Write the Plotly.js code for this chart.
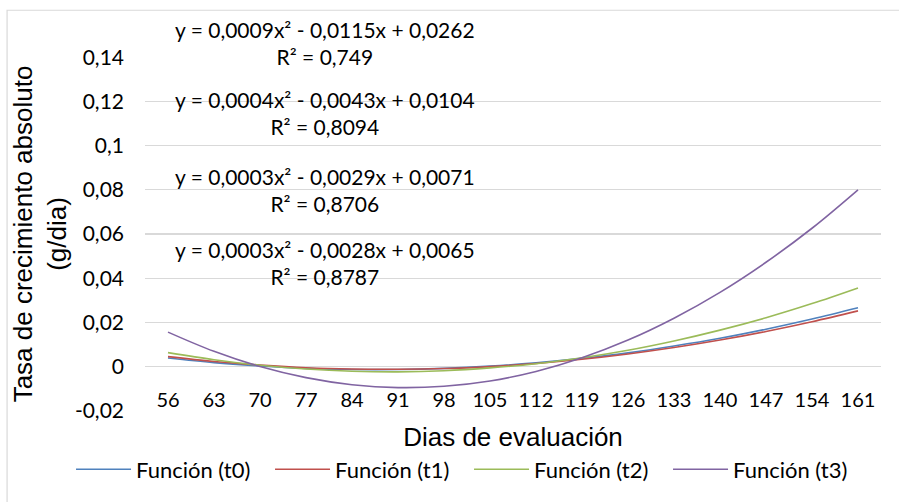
<!DOCTYPE html>
<html>
<head>
<meta charset="utf-8">
<script src="https://cdn.plot.ly/plotly-3.0.1.min.js"></script>
<style>html,body{margin:0;padding:0;background:#fff;}#chart{width:899px;height:502px;}</style>
</head>
<body>
<div id="chart"></div>
<script>
// ---- data ----
var dias = ["56","63","70","77","84","91","98","105","112","119","126","133","140","147","154","161"];
var t0 = [0.0039, 0.0018, 0.0003, -0.0008, -0.0013, -0.0013, -0.0008, 0.0002, 0.0017, 0.0037, 0.0062, 0.0093, 0.0128, 0.0169, 0.0215, 0.0266];
var t1 = [0.0045, 0.0023, 0.0007, -0.0005, -0.0011, -0.0012, -0.0009, 0.0000, 0.0014, 0.0033, 0.0057, 0.0086, 0.0120, 0.0159, 0.0203, 0.0252];
var t2 = [0.0063, 0.0031, 0.0006, -0.0011, -0.0021, -0.0024, -0.0019, -0.0006, 0.0013, 0.0040, 0.0074, 0.0116, 0.0165, 0.0221, 0.0285, 0.0356];
var t3 = [0.0156, 0.0069, 0.0000, -0.0050, -0.0082, -0.0095, -0.0089, -0.0065, -0.0022, 0.0040, 0.0120, 0.0219, 0.0336, 0.0472, 0.0626, 0.0800];
var seriesNames = ["Función (t0)", "Función (t1)", "Función (t2)", "Función (t3)"];
var yTickVals = [-0.02, 0, 0.02, 0.04, 0.06, 0.08, 0.1, 0.12, 0.14];
var yTickText = ["-0,02", "0", "0,02", "0,04", "0,06", "0,08", "0,1", "0,12", "0,14"];
var equations = [
  "y = 0,0009x² - 0,0115x + 0,0262<br>R² = 0,749",
  "y = 0,0004x² - 0,0043x + 0,0104<br>R² = 0,8094",
  "y = 0,0003x² - 0,0029x + 0,0071<br>R² = 0,8706",
  "y = 0,0003x² - 0,0028x + 0,0065<br>R² = 0,8787"
];
// ---- styling ----
var colors = ["#4F81BD", "#C0504D", "#9BBB59", "#8064A2"];
var eqY = [1.0407, 0.8413, 0.6236, 0.4171];
var calib = "Lato, 'Open Sans', sans-serif";
var arial = "'Liberation Sans', Arial, sans-serif";

var allSeries = [t0, t1, t2, t3];
var traces = allSeries.map(function (s, i) {
  return {
    type: "scatter", mode: "lines", x: dias, y: s, name: seriesNames[i],
    line: {color: colors[i], width: 1.6, shape: "spline", smoothing: 1},
    hoverinfo: "x+y"
  };
});

var annotations = equations.map(function (t, i) {
  return {
    text: t, xref: "paper", yref: "paper", x: 0.2444, y: eqY[i],
    xanchor: "center", yanchor: "middle", showarrow: false, align: "center",
    font: {family: calib, size: 21, color: "#000"}
  };
});

var layout = {
  width: 899, height: 502,
  margin: {l: 145, r: 18, t: 57, b: 89},
  paper_bgcolor: "#fff", plot_bgcolor: "#fff",
  showlegend: true,
  legend: {
    orientation: "h", x: -0.1005, xanchor: "left", y: -0.165, yanchor: "middle",
    font: {family: calib, size: 22, color: "#000"},
    itemwidth: 55,
    entrywidth: 129, entrywidthmode: "pixels", traceorder: "normal",
    bgcolor: "rgba(0,0,0,0)"
  },
  xaxis: {
    type: "category", range: [-0.5, 15.5], anchor: "free", position: 0.0702,
    showgrid: false, zeroline: false, showline: false, ticks: "",
    tickfont: {family: calib, size: 20, color: "#000"},
    title: {text: "Dias de evaluación", font: {family: arial, size: 26, color: "#000"}, standoff: 17},
    fixedrange: true
  },
  yaxis: {
    range: [-0.0201, 0.1401], tickvals: yTickVals, ticktext: yTickText,
    showgrid: true, gridcolor: "#D9D9D9", gridwidth: 1.2, zeroline: false, showline: false,
    ticks: "", ticklabelstandoff: 20,
    tickfont: {family: calib, size: 21, color: "#000"},
    title: {text: "Tasa de crecimiento absoluto<br>(g/dia)", font: {family: arial, size: 26, color: "#000"}, standoff: 0},
    fixedrange: true
  },
  annotations: annotations,
  shapes: [{
    type: "rect", xref: "paper", yref: "paper", x0: -0.1874, x1: 1.05, y0: -0.3, y1: 1.132,
    line: {color: "#D9D9D9", width: 1.2}, fillcolor: "rgba(0,0,0,0)", layer: "below"
  }]
};

Plotly.newPlot("chart", traces, layout, {displayModeBar: false, staticPlot: true});
</script>
</body>
</html>
